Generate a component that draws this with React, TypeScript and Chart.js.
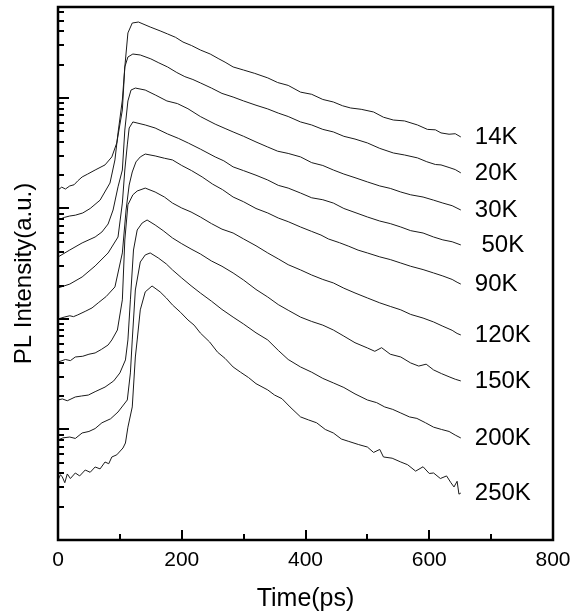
import React, { useEffect, useRef } from "react";
import { Chart, registerables } from "chart.js";

Chart.register(...registerables);

// Temperatures (curve labels)
const curveLabels = ["14K", "20K", "30K", " 50K", "90K", "120K", "150K", "200K", "250K"];

// Time (ps) and PL intensity (a.u.) for each temperature
const time14 = [0, 6, 12, 19, 26, 32, 39, 48, 60, 76, 87, 95, 104, 108, 113, 120, 130, 149, 165, 177, 190, 202, 216, 230, 246, 260, 270, 283, 300, 318, 339, 355, 372, 392, 410, 428, 445, 460, 473, 490, 510, 526, 542, 560, 581, 597, 610, 619, 632, 642, 651];
const pl14 = [1470, 1560, 1500, 1600, 1640, 1780, 1930, 2050, 2230, 2480, 2930, 3920, 7790, 19100, 38800, 47700, 48700, 43900, 40500, 38000, 35400, 32100, 29800, 27200, 25000, 22600, 21100, 19100, 17900, 16700, 15200, 13800, 13000, 11300, 10800, 9700, 9200, 8500, 8120, 7900, 7470, 6700, 6320, 6200, 5700, 5200, 5150, 4830, 4700, 4750, 4440];

const time20 = [0, 10, 19, 28, 40, 52, 68, 84, 92, 97, 104, 108, 113, 121, 133, 150, 163, 177, 192, 205, 218, 230, 248, 265, 283, 300, 320, 339, 356, 372, 392, 410, 428, 445, 462, 480, 500, 520, 542, 560, 581, 596, 610, 619, 632, 642, 651];
const pl20 = [787, 830, 855, 870, 911, 1000, 1190, 1700, 2750, 4830, 9590, 19100, 23500, 25000, 24500, 22600, 20800, 19100, 17000, 15600, 14700, 13700, 12300, 11000, 10200, 9400, 8600, 7960, 7300, 6800, 6070, 5700, 5200, 4930, 4500, 4250, 3920, 3500, 3180, 3050, 2870, 2650, 2500, 2480, 2350, 2250, 2100];

const time30 = [0, 19, 39, 60, 71, 81, 89, 97, 104, 108, 113, 118, 125, 141, 158, 176, 193, 210, 230, 254, 270, 283, 300, 320, 339, 355, 372, 392, 410, 428, 445, 462, 480, 500, 520, 537, 554, 570, 590, 607, 622, 637, 651];
const pl30 = [364, 421, 488, 552, 613, 724, 969, 1570, 2230, 5130, 9400, 11800, 12300, 11800, 10600, 9400, 8900, 8000, 6800, 5800, 5300, 4930, 4500, 4000, 3600, 3300, 3150, 2930, 2600, 2450, 2230, 2050, 1900, 1740, 1600, 1520, 1410, 1330, 1270, 1190, 1120, 1060, 969];

const time50 = [0, 19, 39, 60, 81, 97, 104, 108, 112, 115, 121, 141, 157, 177, 195, 211, 230, 254, 268, 283, 300, 320, 339, 356, 372, 392, 410, 428, 445, 462, 480, 500, 520, 537, 554, 570, 590, 607, 622, 637, 651];
const pl50 = [191, 207, 240, 302, 396, 552, 1120, 2230, 3760, 5350, 6070, 5700, 5350, 4730, 4300, 3900, 3450, 2930, 2700, 2380, 2200, 2000, 1810, 1620, 1530, 1380, 1250, 1200, 1120, 1000, 920, 838, 770, 730, 680, 630, 600, 552, 520, 500, 468];

const time90 = [0, 10, 19, 25, 32, 45, 55, 65, 78, 92, 104, 110, 115, 120, 126, 133, 141, 157, 172, 185, 200, 216, 233, 250, 266, 283, 300, 320, 339, 356, 372, 392, 410, 425, 437, 455, 470, 485, 500, 520, 537, 554, 570, 590, 607, 622, 637, 645, 651];
const pl90 = [100, 104, 107, 105, 109, 118, 126, 140, 160, 195, 396, 969, 1630, 2140, 2640, 2930, 3110, 2990, 2850, 2750, 2450, 2200, 1930, 1660, 1480, 1270, 1150, 1000, 911, 820, 760, 680, 620, 575, 530, 490, 455, 420, 396, 365, 345, 321, 300, 280, 261, 245, 228, 215, 207];

const time120 = [0, 12, 20, 28, 40, 50, 60, 70, 81, 87, 96, 104, 108, 113, 121, 128, 141, 157, 172, 185, 200, 215, 230, 248, 265, 283, 300, 320, 339, 356, 372, 392, 410, 428, 445, 462, 480, 500, 520, 537, 554, 570, 590, 607, 622, 637, 645, 651];
const pl120 = [40.8, 43, 42, 45.3, 46, 48, 49.3, 53, 58.2, 64.6, 79.5, 149, 519, 1080, 1330, 1440, 1530, 1410, 1270, 1120, 1010, 930, 838, 730, 650, 600, 530, 460, 396, 350, 310, 278, 250, 228, 212, 190, 172, 155, 140, 130, 121, 110, 102, 94, 86, 79, 74, 71.7];

const time150 = [0, 7, 15, 28, 38, 49, 60, 76, 90, 100, 109, 113, 117, 122, 128, 136, 144, 157, 170, 185, 200, 215, 230, 248, 265, 283, 300, 320, 339, 356, 372, 392, 410, 428, 445, 462, 480, 500, 512, 523, 537, 554, 570, 583, 595, 607, 620, 632, 642, 651];
const pl150 = [18.5, 18.9, 18.2, 19.7, 20.1, 20.5, 22, 24.2, 27.5, 32.5, 42.6, 64.6, 149, 421, 639, 739, 787, 709, 630, 541, 480, 430, 388, 335, 300, 261, 225, 185, 158, 135, 120, 104, 95, 88, 79.5, 70, 61, 54.7, 51, 55, 48, 45.3, 40, 37.5, 39, 34.6, 32, 30, 28.5, 27.5];

const time200 = [0, 8, 19, 28, 39, 50, 60, 71, 85, 97, 112, 117, 120, 125, 133, 141, 149, 162, 175, 185, 200, 215, 230, 248, 265, 283, 300, 320, 339, 356, 372, 392, 410, 428, 445, 462, 480, 500, 515, 528, 541, 554, 568, 580, 594, 607, 620, 632, 642, 651];
const pl200 = [8.04, 8.4, 8.55, 8.3, 9.3, 9.6, 10.2, 11.5, 12.5, 14.4, 18.5, 32.5, 64.6, 183, 328, 380, 396, 357, 315, 278, 235, 200, 172, 145, 122, 104, 90, 75, 64.6, 52, 43, 36.8, 33, 29, 26.4, 24, 21, 18.5, 17.5, 16, 15.2, 14.1, 13, 12.6, 11.5, 10.5, 10, 9.6, 8.9, 8.38];

const time250 = [0, 4, 7, 11, 15, 20, 28, 35, 44, 52, 60, 68, 76, 82, 87, 95, 105, 109, 113, 120, 125, 128, 133, 141, 152, 165, 175, 185, 198, 210, 220, 230, 245, 258, 270, 283, 295, 308, 320, 339, 350, 362, 375, 392, 405, 418, 432, 445, 458, 470, 486, 500, 510, 520, 526, 540, 554, 565, 578, 590, 600, 607, 618, 628, 635, 640, 645, 648, 651];
const pl250 = [3.49, 3.9, 3.72, 3.3, 3.96, 3.6, 4.04, 3.8, 4.3, 4.1, 4.58, 4.4, 5.08, 4.9, 5.64, 5.9, 6.8, 7.55, 10.5, 16.0, 45.3, 64.6, 121, 176, 199, 176, 155, 134, 115, 98, 88, 74.7, 62, 50, 44, 36.8, 33, 29.5, 26, 22.8, 20.5, 19, 16, 13.0, 12.2, 11.5, 10, 9.3, 8.2, 7.8, 7.3, 6.94, 6.2, 6.6, 5.64, 5.5, 5.08, 4.8, 4.2, 4.6, 4.0, 4.04, 3.6, 3.8, 3.3, 3.02, 3.4, 2.6, 2.66];

const seriesTimes = [time14, time20, time30, time50, time90, time120, time150, time200, time250];
const seriesPL = [pl14, pl20, pl30, pl50, pl90, pl120, pl150, pl200, pl250];

// Axis ranges
const xMin = 0;
const xMax = 800;
const yMin = 1;
const yMax = 66600;

const FONT = 'Arial, "Liberation Sans", Helvetica, sans-serif';

const framePlugin = {
  id: "frameTicks",
  afterDatasetsDraw(chart: any) {
    const { ctx } = chart;
    ctx.save();
    ctx.fillStyle = "#000";
    ctx.font = `24px ${FONT}`;
    ctx.textAlign = "left";
    ctx.textBaseline = "middle";
    chart.data.datasets.forEach((ds: any, i: number) => {
      const meta = chart.getDatasetMeta(i);
      const last = meta.data[meta.data.length - 1];
      if (last) ctx.fillText(ds.label, last.x + 14, last.y);
    });
    ctx.restore();
  },
  afterDraw(chart: any) {
    const { ctx, chartArea: a, scales } = chart;
    ctx.save();
    ctx.strokeStyle = "#000";
    ctx.lineWidth = 2;
    ctx.lineCap = "butt";
    const xs = scales.x;
    xs.ticks.forEach((t: any) => {
      if (t.value <= xs.min || t.value >= xs.max) return;
      const px = Math.round(xs.getPixelForValue(t.value));
      const len = t.value % 200 === 0 ? 10 : 6;
      ctx.beginPath();
      ctx.moveTo(px, a.bottom);
      ctx.lineTo(px, a.bottom - len);
      ctx.stroke();
    });
    const ys = scales.y;
    const d0 = Math.floor(Math.log10(ys.min));
    const d1 = Math.ceil(Math.log10(ys.max));
    for (let d = d0; d <= d1; d++) {
      for (let m = 1; m <= 9; m++) {
        const v = m * Math.pow(10, d);
        if (v <= ys.min || v >= ys.max) continue;
        const py = Math.round(ys.getPixelForValue(v));
        const len = m === 1 ? 11 : 6;
        ctx.beginPath();
        ctx.moveTo(a.left, py);
        ctx.lineTo(a.left + len, py);
        ctx.stroke();
      }
    }
    ctx.lineWidth = 2.5;
    ctx.strokeRect(a.left, a.top, a.right - a.left, a.bottom - a.top);
    ctx.restore();
  },
};

export default function App() {
  const ref = useRef<HTMLCanvasElement>(null);
  useEffect(() => {
    if (!ref.current) return;
    const datasets = seriesPL.map((pl, i) => ({
      label: curveLabels[i],
      data: pl.map((v, j) => ({ x: seriesTimes[i][j], y: v })),
      borderColor: "#1a1a1a",
      borderWidth: 1,
      pointRadius: 0,
      fill: false,
      tension: 0,
    }));
    const chart = new Chart(ref.current, {
      type: "line",
      data: { datasets },
      options: {
        responsive: false,
        animation: false,
        devicePixelRatio: 1,
        layout: { padding: { top: 7, right: 19, left: 0, bottom: 0 } },
        plugins: { legend: { display: false }, tooltip: { enabled: false } },
        scales: {
          x: {
            type: "linear",
            min: xMin,
            max: xMax,
            grid: { display: false },
            border: { display: false },
            afterFit: (s: any) => {
              s.height = 75;
            },
            ticks: {
              stepSize: 100,
              autoSkip: false,
              maxRotation: 0,
              padding: 0,
              color: "#000",
              font: { size: 21, family: FONT },
              callback: (v: any) => (Number(v) % 200 === 0 ? String(v) : ""),
            },
            title: {
              display: true,
              text: "Time(ps)",
              color: "#000",
              font: { size: 25, family: FONT },
              padding: { top: 0, bottom: 1 },
            },
          },
          y: {
            type: "logarithmic",
            min: yMin,
            max: yMax,
            grid: { display: false },
            border: { display: false },
            afterFit: (s: any) => {
              s.width = 58;
            },
            ticks: { display: false },
            title: {
              display: true,
              text: "PL Intensity(a.u.)",
              color: "#000",
              font: { size: 24, family: FONT },
              padding: { top: 10, bottom: 0 },
            },
          },
        },
      },
      plugins: [framePlugin],
    });
    return () => chart.destroy();
  }, []);
  return (
    <div style={{ position: "fixed", left: 0, top: 0, width: 572, height: 615, background: "#fff" }}>
      <canvas ref={ref} width={572} height={615} />
    </div>
  );
}
